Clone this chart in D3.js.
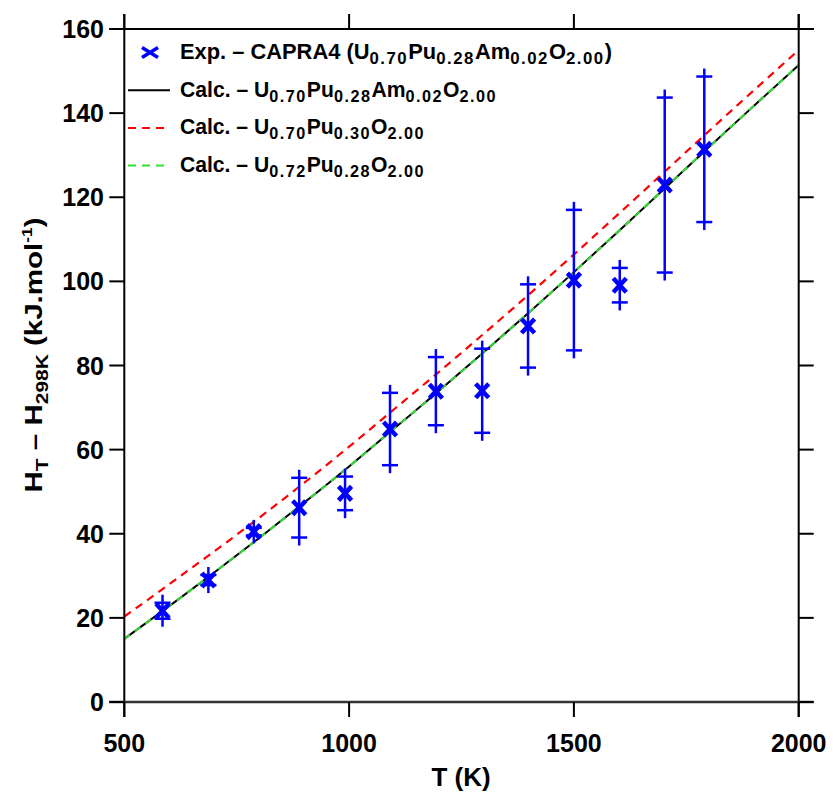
<!DOCTYPE html>
<html><head><meta charset="utf-8">
<script src="https://cdn.jsdelivr.net/npm/d3@7"></script>
<style>
html,body{margin:0;padding:0;background:#fff;}
text{font-family:"Liberation Sans",Arial,sans-serif;font-weight:bold;fill:#000;}
</style></head>
<body>
<svg id="chart" width="833" height="793"></svg>
<script>
// ---- data ----
const lineT = [500,600,700,800,900,1000,1100,1200,1300,1400,1500,1600,1700,1800,1900,2000];
const calcAm = [15.0,22.8,30.8,39.0,47.4,56.0,65.0,74.0,83.2,92.6,102.2,112.0,121.9,131.9,141.7,151.4];
const calcPu30 = [20.3,28.0,35.8,43.8,52.1,60.7,69.6,78.5,87.6,96.9,106.4,116.1,125.9,135.7,145.4,155.0];
const calcU72 = [15.0,22.8,30.8,39.0,47.4,56.0,65.0,74.0,83.2,92.6,102.2,112.0,121.9,131.9,141.7,151.4];

const expT = [585,687,788,889,991,1091,1193,1296,1398,1500,1602,1702,1790];
const expH = [21.7,29.0,40.5,46.2,49.6,64.9,73.9,74.0,89.4,100.3,99.1,122.9,131.4];
const expErr = [1.9,1.2,0.9,7.1,4.0,8.6,8.1,10.0,9.9,16.7,4.1,20.8,17.3];

const xTicks = [500,1000,1500,2000];
const yTicks = [0,20,40,60,80,100,120,140,160];

// ---- layout ----
const svg = d3.select("#chart");
const x = d3.scaleLinear().domain([500,2000]).range([124.3,798.7]);
const y = d3.scaleLinear().domain([0,160]).range([702,29]);
const ext = 15;
const blue = "#0000ff";

// curves
const mk = vals => lineT.map((t,i)=>[t,vals[i]]);
const line = d3.line().x(d=>x(d[0])).y(d=>y(d[1])).curve(d3.curveMonotoneX);
svg.append("path").attr("d",line(mk(calcAm))).attr("fill","none").attr("stroke","#000").attr("stroke-width",2);
svg.append("path").attr("d",line(mk(calcU72))).attr("fill","none").attr("stroke","#33e033").attr("stroke-width",2).attr("stroke-dasharray","7,6");
svg.append("path").attr("d",line(mk(calcPu30))).attr("fill","none").attr("stroke","#ff0000").attr("stroke-width",2.2).attr("stroke-dasharray","8,6");

// error bars
const eg = svg.append("g").attr("stroke",blue).attr("fill","none");
expT.forEach((t,i)=>{
  const cx = x(t), top = y(expH[i]+expErr[i]), bot = y(expH[i]-expErr[i]);
  eg.append("line").attr("x1",cx).attr("x2",cx).attr("y1",top-8).attr("y2",bot+8).attr("stroke-width",2.5);
  [top,bot].forEach(yy=>{
    eg.append("line").attr("x1",cx-8).attr("x2",cx+8).attr("y1",yy).attr("y2",yy).attr("stroke-width",2.5);
  });
  const cy = y(expH[i]);
  eg.append("path").attr("d",`M${cx-6.5},${cy-7}L${cx+6.5},${cy+7}M${cx-6.5},${cy+7}L${cx+6.5},${cy-7}`).attr("stroke-width",4.5);
});

// frame
const fg = svg.append("g").attr("stroke","#000").attr("stroke-width",2);
fg.append("line").attr("x1",x(500)).attr("x2",x(500)).attr("y1",y(160)-ext).attr("y2",y(0)+ext);
fg.append("line").attr("x1",x(2000)).attr("x2",x(2000)).attr("y1",y(160)-ext).attr("y2",y(0)+ext);
fg.append("line").attr("x1",x(500)-ext).attr("x2",x(2000)+ext).attr("y1",y(160)).attr("y2",y(160));
fg.append("line").attr("x1",x(500)-ext).attr("x2",x(2000)+ext).attr("y1",y(0)).attr("y2",y(0)).attr("stroke-width",2.5).attr("stroke","#333");

// axes ticks
xTicks.forEach(t=>{
  fg.append("line").attr("x1",x(t)).attr("x2",x(t)).attr("y1",y(0)).attr("y2",y(0)+ext);
  fg.append("line").attr("x1",x(t)).attr("x2",x(t)).attr("y1",y(160)).attr("y2",y(160)-ext);
  svg.append("text").attr("x",x(t)).attr("y",752).attr("text-anchor","middle").attr("font-size",25).text(t);
});
yTicks.forEach(v=>{
  fg.append("line").attr("x1",x(500)-ext).attr("x2",x(500)).attr("y1",y(v)).attr("y2",y(v));
  fg.append("line").attr("x1",x(2000)).attr("x2",x(2000)+ext).attr("y1",y(v)).attr("y2",y(v));
  svg.append("text").attr("x",104).attr("y",y(v)+9).attr("text-anchor","end").attr("font-size",25).text(v);
});

// axis titles
svg.append("text").attr("x",461).attr("y",786).attr("text-anchor","middle").attr("font-size",26).text("T (K)");
const yt = svg.append("text").attr("transform","translate(42,355) rotate(-90)").attr("text-anchor","middle").attr("font-size",24)
  .attr("textLength",275).attr("lengthAdjust","spacingAndGlyphs");
yt.append("tspan").text("H");
yt.append("tspan").attr("font-size",17).attr("dy",6).text("T");
yt.append("tspan").attr("dy",-6).text(" – H");
yt.append("tspan").attr("font-size",17).attr("dy",6).text("298K");
yt.append("tspan").attr("dy",-6).text(" (kJ.mol");
yt.append("tspan").attr("font-size",14).attr("dy",-10).text("-1");
yt.append("tspan").attr("dy",10).text(")");

// legend
const legendRows = [
  {type:"x", parts:[["Exp. – CAPRA4 (U",0],["0.70",1],["Pu",0],["0.28",1],["Am",0],["0.02",1],["O",0],["2.00",1],[")",0]], w:432},
  {type:"line", color:"#000", dash:null, parts:[["Calc. – U",0],["0.70",1],["Pu",0],["0.28",1],["Am",0],["0.02",1],["O",0],["2.00",1]], w:317},
  {type:"line", color:"#ff0000", dash:"8,6", parts:[["Calc. – U",0],["0.70",1],["Pu",0],["0.30",1],["O",0],["2.00",1]], w:245},
  {type:"line", color:"#33e033", dash:"8,6", parts:[["Calc. – U",0],["0.72",1],["Pu",0],["0.28",1],["O",0],["2.00",1]], w:245}
];
legendRows.forEach((r,i)=>{
  const by = 59 + i*37.7;
  const my = by - 6.5;
  if(r.type==="x"){
    svg.append("path").attr("d",`M${150-8},${my-5}L${150+8},${my+5}M${150-8},${my+5}L${150+8},${my-5}`).attr("stroke",blue).attr("stroke-width",3.5).attr("fill","none");
  } else {
    const l = svg.append("line").attr("x1",128).attr("x2",170).attr("y1",my).attr("y2",my).attr("stroke",r.color).attr("stroke-width",2);
    if(r.dash) l.attr("stroke-dasharray",r.dash);
  }
  const t = svg.append("text").attr("x",180).attr("y",by).attr("font-size",21.5)
    .attr("textLength",r.w).attr("lengthAdjust","spacingAndGlyphs");
  let sub=false;
  r.parts.forEach(([s,isSub])=>{
    const ts = t.append("tspan").text(s);
    if(isSub && !sub){ ts.attr("dy",5).attr("font-size",16.5).attr("letter-spacing",1.5); sub=true; }
    else if(isSub){ ts.attr("font-size",16.5).attr("letter-spacing",1.5); }
    else if(!isSub && sub){ ts.attr("dy",-5); sub=false; }
  });
});
</script>
</body></html>
